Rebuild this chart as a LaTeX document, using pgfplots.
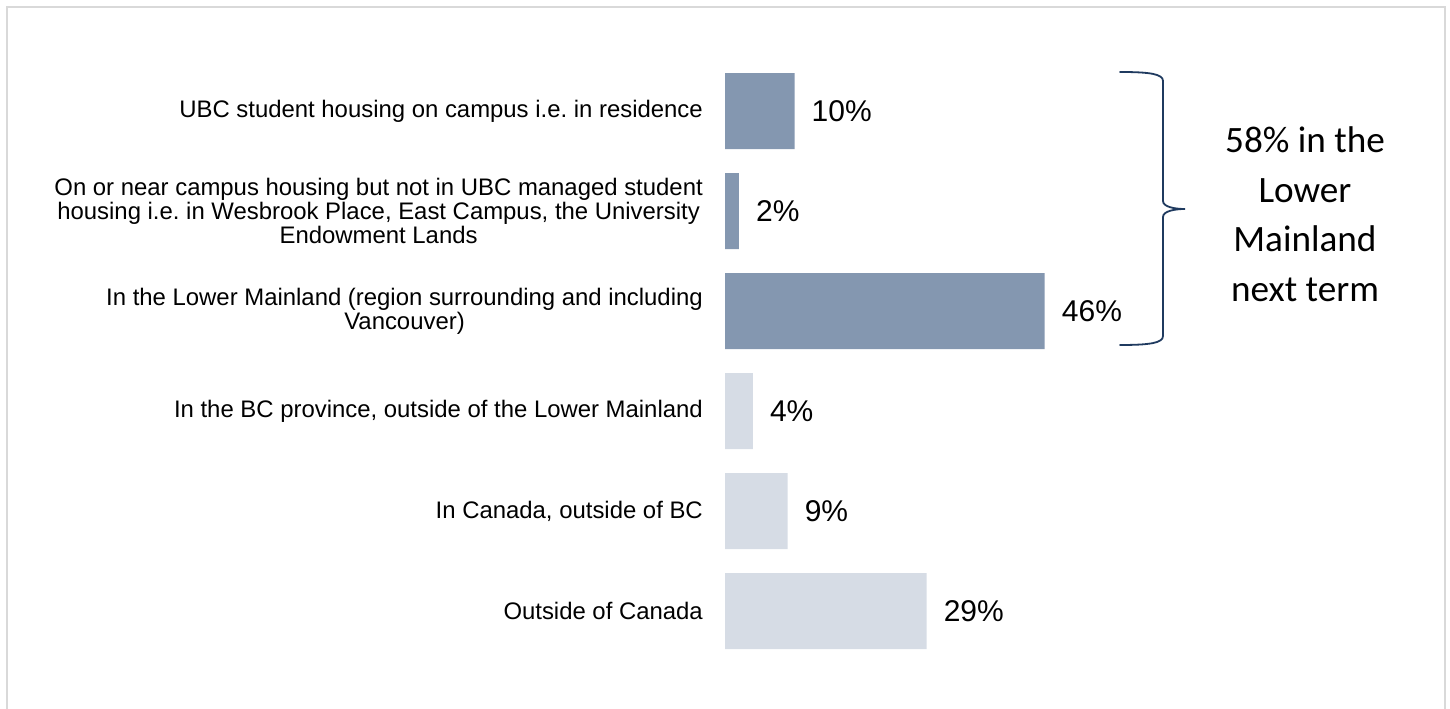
\documentclass[border=0pt]{standalone}
\usepackage{pgfplots}
\pgfplotsset{compat=1.18}
\usepackage{fontspec}
\setmainfont{Liberation Sans}
\newfontfamily\calibri{Carlito}
\definecolor{darkbar}{HTML}{8497B0}
\definecolor{lightbar}{HTML}{D6DCE5}
\definecolor{navy}{HTML}{1F3A5F}
\definecolor{frame}{HTML}{D9D9D9}
\begin{document}
\frenchspacing
\begin{tikzpicture}
\path[use as bounding box] (0,0) rectangle (1450bp,709bp);
\draw[frame, line width=2bp] (7bp,-5bp) -- (7bp,702bp) -- (1445bp,702bp) -- (1445bp,-5bp);
\begin{axis}[
  at={(725bp,48bp)}, anchor=south west,
  scale only axis, width=417bp, height=600bp,
  xmin=0, xmax=60, ymin=-0.5, ymax=5.5, y dir=reverse,
  xbar, bar width=76bp, bar shift=0pt,
  hide x axis, axis y line*=left, y axis line style={draw=none},
  ytick={0,1,2,3,4,5}, major tick length=0pt,
  /pgf/number format/assume math mode=true,
  yticklabels={
    {UBC student housing on campus i.e. in residence},
    {On or near campus housing but not in UBC managed student\\housing i.e. in Wesbrook Place, East Campus, the University\\Endowment Lands},
    {In the Lower Mainland (region surrounding and including\\Vancouver)},
    {In the BC province, outside of the Lower Mainland},
    {In Canada, outside of BC},
    {Outside of Canada}},
  yticklabel style={anchor=east, align=center, inner sep=0pt, xshift=-22bp,
    font=\fontsize{23.9bp}{24.2bp}\selectfont\frenchspacing},
  clip=false,
  nodes near coords={\pgfmathprintnumber{\pgfplotspointmeta}\%},
  point meta=explicit,
  nodes near coords style={anchor=west, inner sep=0pt, xshift=17bp,
    font=\fontsize{30bp}{36bp}\selectfont, text=black},
]
\addplot[fill=darkbar, draw=none] coordinates {(10,0) [10] (2,1) [2] (46,2) [46]};
\addplot[fill=lightbar, draw=none] coordinates {(4,3) [4] (9,4) [9] (29,5) [29]};
\end{axis}
% brace annotation
\draw[navy, line width=1.8bp, line cap=round]
  (1120bp,637bp) .. controls (1150bp,637bp) and (1163bp,635bp) .. (1163bp,628bp)
  -- (1163bp,508bp) .. controls (1163bp,502bp) and (1175bp,500bp) .. (1185bp,500bp)
  .. controls (1175bp,500bp) and (1163bp,498bp) .. (1163bp,492bp)
  -- (1163bp,373bp) .. controls (1163bp,366bp) and (1150bp,364bp) .. (1120bp,364bp);
\node[align=center, font=\calibri\fontsize{37.2bp}{49.5bp}\selectfont, anchor=center]
  at (1305bp,495bp) {58\% in the\\Lower\\Mainland\\next term};
\end{tikzpicture}
\end{document}
